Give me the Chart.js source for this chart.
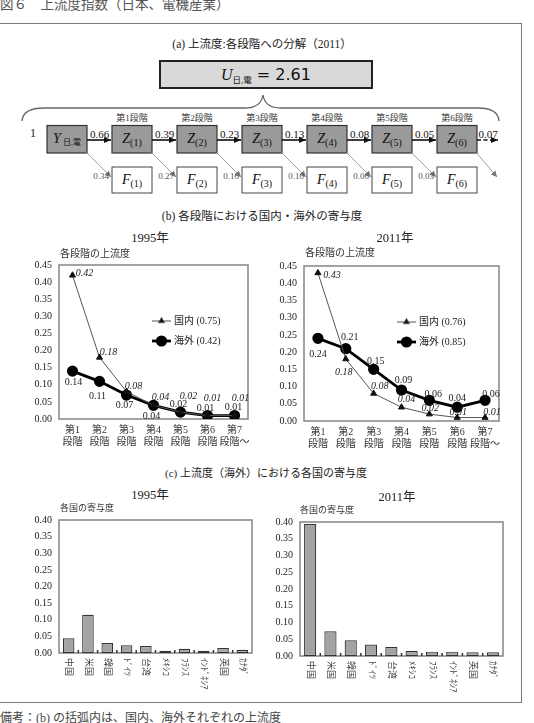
<!DOCTYPE html>
<html>
<head>
<meta charset="utf-8">
<script src="https://cdn.jsdelivr.net/npm/chart.js@4.4.1/dist/chart.umd.min.js"></script>
<style>
  body { margin: 0; background: #fff; }
  #page { position: relative; width: 534px; height: 723px; overflow: hidden;
          font-family: "Liberation Serif", "Noto Sans CJK JP", serif; color: #222; }
  .t { position: absolute; white-space: nowrap; line-height: 1; }
  canvas { position: absolute; }
  #frame { position: absolute; left: -2px; top: 23px; width: 524px; height: 680px;
           box-sizing: border-box; border: 1.5px solid #7a7a7a; }
  #diagram { position: absolute; left: 0; top: 0; }
</style>
</head>
<body>
<div id="page">
  <div id="frame"></div>
  <svg id="diagram" width="534" height="210"></svg>
  <canvas id="line1995" width="250" height="199" style="left:5px;top:252px"></canvas>
  <canvas id="line2011" width="256" height="200" style="left:250px;top:253px"></canvas>
  <canvas id="bar1995" width="251" height="186" style="left:5px;top:507px"></canvas>
  <canvas id="bar2011" width="261" height="187" style="left:246px;top:509px"></canvas>
</div>
<script>
// (a) decomposition of upstreamness, 2011
const upstreamTotal = 2.61;
const stageNames = ["第1段階", "第2段階", "第3段階", "第4段階", "第5段階", "第6段階"];
const flowValues = [0.66, 0.39, 0.23, 0.13, 0.08, 0.05, 0.07];
const finalValues = [0.34, 0.27, 0.16, 0.10, 0.06, 0.03];

// (b) domestic / foreign contribution by stage
const stageCats = [["第1", "段階"], ["第2", "段階"], ["第3", "段階"], ["第4", "段階"],
                   ["第5", "段階"], ["第6", "段階"], ["第7", "段階～"]];
const domestic1995 = [0.42, 0.18, 0.08, 0.04, 0.02, 0.01, 0.01];
const foreign1995 = [0.14, 0.11, 0.07, 0.04, 0.02, 0.01, 0.01];
const domestic2011 = [0.43, 0.18, 0.08, 0.04, 0.02, 0.01, 0.01];
const foreign2011 = [0.24, 0.21, 0.15, 0.09, 0.06, 0.04, 0.06];
const legend1995 = ["国内 (0.75)", "海外 (0.42)"];
const legend2011 = ["国内 (0.76)", "海外 (0.85)"];

// (c) country contribution to foreign upstreamness
const countries = ["中国", "米国", "韓国", "ﾄﾞｲﾂ", "台湾", "ﾒｷｼｺ", "ﾌﾗﾝｽ", "ｲﾝﾄﾞﾈｼｱ", "英国", "ｶﾅﾀﾞ"];
const share1995 = [0.044, 0.115, 0.030, 0.023, 0.021, 0.007, 0.013, 0.007, 0.015, 0.010];
const share2011 = [0.394, 0.074, 0.047, 0.034, 0.027, 0.015, 0.013, 0.013, 0.011, 0.011];

const SERIF = '"Liberation Serif", "Noto Sans CJK JP", serif';
Chart.defaults.font.family = SERIF;

const page = document.getElementById("page");
function label(str, x, y, size, opts = {}) {
  const d = document.createElement("div");
  d.className = "t";
  d.textContent = str;
  d.style.left = x + "px";
  d.style.top = y + "px";
  d.style.fontSize = size + "px";
  d.style.color = opts.color || "#222";
  d.style.transform = opts.left ? "translate(0,-50%)" : "translate(-50%,-50%)";
  page.appendChild(d);
}

label("図６　上流度指数（日本、電機産業）", 0, 4.5, 13.5, { left: true, color: "#555" });
label("(a) 上流度:各段階への分解（2011）", 262, 45, 11.5);
label("(b) 各段階における国内・海外の寄与度", 262, 217, 11.5);
label("1995年", 150, 238, 12.5);
label("2011年", 395, 238, 12.5);
label("各段階の上流度", 60, 254, 10, { left: true, color: "#333" });
label("各段階の上流度", 305, 253, 10, { left: true, color: "#333" });
label("(c) 上流度（海外）における各国の寄与度", 266, 473, 11);
label("1995年", 150, 495, 12.5);
label("2011年", 397, 497, 12.5);
label("各国の寄与度", 60, 508, 9, { left: true, color: "#333" });
label("各国の寄与度", 300, 510, 9, { left: true, color: "#333" });
label("備考：(b) の括弧内は、国内、海外それぞれの上流度", 0, 718, 12, { left: true, color: "#444" });

// ---- diagram (a) ----
const svg = document.getElementById("diagram");
const NS = "http://www.w3.org/2000/svg";
function node(tag, attrs, parent, text) {
  const e = document.createElementNS(NS, tag);
  for (const k in attrs) e.setAttribute(k, attrs[k]);
  if (text !== undefined) e.textContent = text;
  (parent || svg).appendChild(e);
  return e;
}
const defs = node("defs", {});
const mk = node("marker", { id: "ah", markerWidth: 8, markerHeight: 8, refX: 7, refY: 4, orient: "auto", markerUnits: "userSpaceOnUse" }, defs);
node("path", { d: "M0,1 L7,4 L0,7 Z", fill: "#111" }, mk);
const mg = node("marker", { id: "ag", markerWidth: 7, markerHeight: 7, refX: 6, refY: 3.5, orient: "auto", markerUnits: "userSpaceOnUse" }, defs);
node("path", { d: "M0,0.5 L6,3.5 L0,6.5 Z", fill: "#777" }, mg);

// total box
node("rect", { x: 160, y: 61, width: 212, height: 27, fill: "#d9d9d9", stroke: "#222", "stroke-width": 2 });
const ut = node("text", { x: 266, y: 80, "text-anchor": "middle", "font-family": SERIF, fill: "#111" });
node("tspan", { "font-style": "italic", "font-size": 16 }, ut, "U");
node("tspan", { "font-size": 8.5, dy: 3 }, ut, "日,電");
node("tspan", { "font-size": 16, dy: -3, "font-family": '"DejaVu Sans", sans-serif' }, ut, " = " + upstreamTotal.toFixed(2));

// brace
node("path", { d: "M22,121 Q23,108 44,108 L245,108 Q261,108 263,95 Q265,108 281,108 L478,108 Q498,108 499,121",
               fill: "none", stroke: "#666", "stroke-width": 1.3 });

const boxX = i => 47 + 65 * i;
const BW = 40, BT = 125.5, BH = 27.5, FT = 167, FH = 26, AY = 140;

node("text", { x: 33, y: 137, "text-anchor": "middle", "font-size": 12, "font-family": SERIF, fill: "#222" }, undefined, "1");

for (let i = 0; i <= stageNames.length; i++) {
  node("rect", { x: boxX(i), y: BT, width: BW, height: BH, fill: "#9a9a9a", stroke: "#333", "stroke-width": 1.2 });
  const t = node("text", { x: boxX(i) + BW / 2, y: 143, "text-anchor": "middle", "font-family": SERIF, fill: "#111" });
  if (i === 0) {
    node("tspan", { "font-style": "italic", "font-size": 14 }, t, "Y");
    node("tspan", { "font-size": 8, dy: 2 }, t, " 日,電");
  } else {
    node("tspan", { "font-style": "italic", "font-size": 14 }, t, "Z");
    node("tspan", { "font-size": 10, dy: 3 }, t, "(" + i + ")");
    node("text", { x: boxX(i) + BW / 2, y: 121, "text-anchor": "middle", "font-size": 9, "font-family": SERIF, fill: "#333" }, undefined, stageNames[i - 1]);
    node("rect", { x: boxX(i), y: FT, width: BW, height: FH, fill: "#fff", stroke: "#444", "stroke-width": 1 });
    const f = node("text", { x: boxX(i) + BW / 2, y: 184, "text-anchor": "middle", "font-family": SERIF, fill: "#111" });
    node("tspan", { "font-style": "italic", "font-size": 14 }, f, "F");
    node("tspan", { "font-size": 10, dy: 3 }, f, "(" + i + ")");
  }
}

flowValues.forEach((v, i) => {
  const x1 = boxX(i) + BW, last = i === flowValues.length - 1;
  const x2 = last ? x1 + 22 : boxX(i + 1);
  node("line", { x1: x1, y1: AY, x2: x2 - 1, y2: AY, stroke: "#111", "stroke-width": 1.6,
                 "stroke-dasharray": last ? "4,2.5" : "none", "marker-end": "url(#ah)" });
  node("text", { x: (x1 + x2) / 2, y: 137.5, "text-anchor": "middle", "font-size": 11, "font-family": SERIF, fill: "#111" },
       undefined, v.toFixed(2));
});

for (let i = 0; i <= finalValues.length; i++) {
  const x1 = boxX(i) + BW - 2;
  const x2 = i < finalValues.length ? boxX(i + 1) - 1 : x1 + 22;
  node("line", { x1: x1, y1: 151, x2: x2, y2: 177, stroke: "#888", "stroke-width": 0.8, "marker-end": "url(#ag)" });
  if (i < finalValues.length) {
    node("text", { x: x2 - 2, y: 179, "text-anchor": "end", "font-size": 9, "font-family": SERIF, fill: "#555" },
         undefined, finalValues[i].toFixed(2));
  }
}

// ---- charts ----
const framePlugin = {
  id: "frame",
  beforeDatasetsDraw(chart) {
    const a = chart.chartArea, ctx = chart.ctx;
    ctx.save();
    ctx.strokeStyle = "#858585";
    ctx.lineWidth = 1.5;
    ctx.strokeRect(a.left, a.top, a.right - a.left, a.bottom - a.top);
    ctx.restore();
  }
};

function pointLabels(specs) {
  return {
    id: "pointLabels",
    afterDatasetsDraw(chart) {
      const ctx = chart.ctx;
      specs.forEach((s, di) => {
        const meta = chart.getDatasetMeta(di);
        ctx.save();
        ctx.font = s.font;
        ctx.fillStyle = "#222";
        ctx.textAlign = "center";
        ctx.textBaseline = "middle";
        meta.data.forEach((pt, i) => {
          const v = chart.data.datasets[di].data[i];
          ctx.fillText(v.toFixed(2), pt.x + s.off[i][0], pt.y + s.off[i][1]);
        });
        ctx.restore();
      });
    }
  };
}

const legendPlugin = {
  id: "innerLegend",
  afterDatasetsDraw(chart) {
    const a = chart.chartArea, ctx = chart.ctx;
    chart.data.datasets.forEach((ds, i) => {
      const x = a.left + 93, y = a.top + 56 + i * 20;
      ctx.save();
      ctx.strokeStyle = ds.borderColor;
      ctx.lineWidth = ds.borderWidth;
      ctx.beginPath();
      ctx.moveTo(x, y);
      ctx.lineTo(x + 19, y);
      ctx.stroke();
      ctx.fillStyle = ds.pointBackgroundColor;
      Chart.helpers.drawPoint(ctx, { pointStyle: ds.pointStyle, radius: ds.pointRadius, borderWidth: 1 }, x + 9.5, y);
      ctx.fillStyle = "#222";
      ctx.font = "10px " + SERIF;
      ctx.textBaseline = "middle";
      ctx.fillText(ds.label, x + 22, y);
      ctx.restore();
    });
  }
};

const tickFont = { size: 10 };

function lineChart(id, dom, frn, legendText, domOff, frnOff) {
  return new Chart(document.getElementById(id), {
    type: "line",
    data: {
      labels: stageCats,
      datasets: [
        { label: legendText[0], data: dom, borderColor: "#555", borderWidth: 1, tension: 0,
          pointStyle: "triangle", pointRadius: 3.5, pointBackgroundColor: "#111", pointBorderColor: "#111" },
        { label: legendText[1], data: frn, borderColor: "#000", borderWidth: 2.8, tension: 0,
          pointStyle: "circle", pointRadius: 4.2, pointBackgroundColor: "#000", pointBorderColor: "#000" }
      ]
    },
    options: {
      responsive: false, animation: false, devicePixelRatio: 1,
      layout: { padding: { top: 10, right: 4, left: 0, bottom: 0 } },
      plugins: { legend: { display: false }, tooltip: { enabled: false } },
      scales: {
        x: { offset: true, grid: { display: false, drawTicks: false }, border: { display: false },
             ticks: { padding: 5, font: tickFont, color: "#333", maxRotation: 0, autoSkip: false },
             afterFit: s => { s.height = 32; } },
        y: { min: 0, max: 0.45, grid: { display: false, drawTicks: false }, border: { display: false },
             ticks: { stepSize: 0.05, padding: 7, font: tickFont, color: "#222", callback: v => v.toFixed(2) },
             afterFit: s => { s.width = 54; } }
      }
    },
    plugins: [framePlugin, legendPlugin,
      pointLabels([{ font: "italic 10px " + SERIF, off: domOff }, { font: "10px " + SERIF, off: frnOff }])]
  });
}

lineChart("line1995", domestic1995, foreign1995, legend1995,
  [[12, -2], [9, -5], [7, -5], [7, -8], [8, -16], [5, -17], [6, -17]],
  [[1, 11], [-2, 15], [-2, 10], [-2, 11], [-2, -8], [-2, -7], [-1, -8]]);
lineChart("line2011", domestic2011, foreign2011, legend2011,
  [[14, 2], [-2, 13], [6, -7], [5, -8], [1, -6], [1, -5], [7, -5]],
  [[0, 16], [4, -11], [2, -8], [2, -10], [4, -6], [0, -9], [6, -6]]);

const verticalTicks = {
  id: "verticalTicks",
  afterDraw(chart) {
    const ctx = chart.ctx, xs = chart.scales.x, a = chart.chartArea;
    ctx.save();
    ctx.fillStyle = "#444";
    ctx.font = "9px " + SERIF;
    ctx.textAlign = "left";
    ctx.textBaseline = "middle";
    chart.data.labels.forEach((lab, i) => {
      ctx.save();
      ctx.translate(xs.getPixelForTick(i), a.bottom + 5);
      ctx.rotate(Math.PI / 2);
      ctx.fillText(lab, 0, 0);
      ctx.restore();
    });
    ctx.strokeStyle = "#333";
    ctx.lineWidth = 1.5;
    for (let i = 0; i < chart.data.labels.length - 1; i++) {
      const x = (xs.getPixelForTick(i) + xs.getPixelForTick(i + 1)) / 2;
      ctx.beginPath();
      ctx.moveTo(x, a.bottom);
      ctx.lineTo(x, a.bottom - 3);
      ctx.stroke();
    }
    ctx.restore();
  }
};

function barChart(id, values) {
  return new Chart(document.getElementById(id), {
    type: "bar",
    data: {
      labels: countries,
      datasets: [{ data: values, backgroundColor: "#a3a3a3", borderColor: "#333", borderWidth: 1.2,
                   borderSkipped: false, barPercentage: 0.6, categoryPercentage: 1 }]
    },
    options: {
      responsive: false, animation: false, devicePixelRatio: 1,
      layout: { padding: { top: 10, right: 4, left: 0, bottom: 0 } },
      plugins: { legend: { display: false }, tooltip: { enabled: false } },
      scales: {
        x: { grid: { display: false, drawTicks: false }, border: { display: false },
             ticks: { display: false }, afterFit: s => { s.height = 40; } },
        y: { min: 0, max: 0.4, grid: { display: false, drawTicks: false }, border: { display: false },
             ticks: { stepSize: 0.05, padding: 7, font: tickFont, color: "#222", callback: v => v.toFixed(2) },
             afterFit: s => { s.width = 54; } }
      }
    },
    plugins: [framePlugin, verticalTicks]
  });
}

barChart("bar1995", share1995);
barChart("bar2011", share2011);
</script>
</body>
</html>
